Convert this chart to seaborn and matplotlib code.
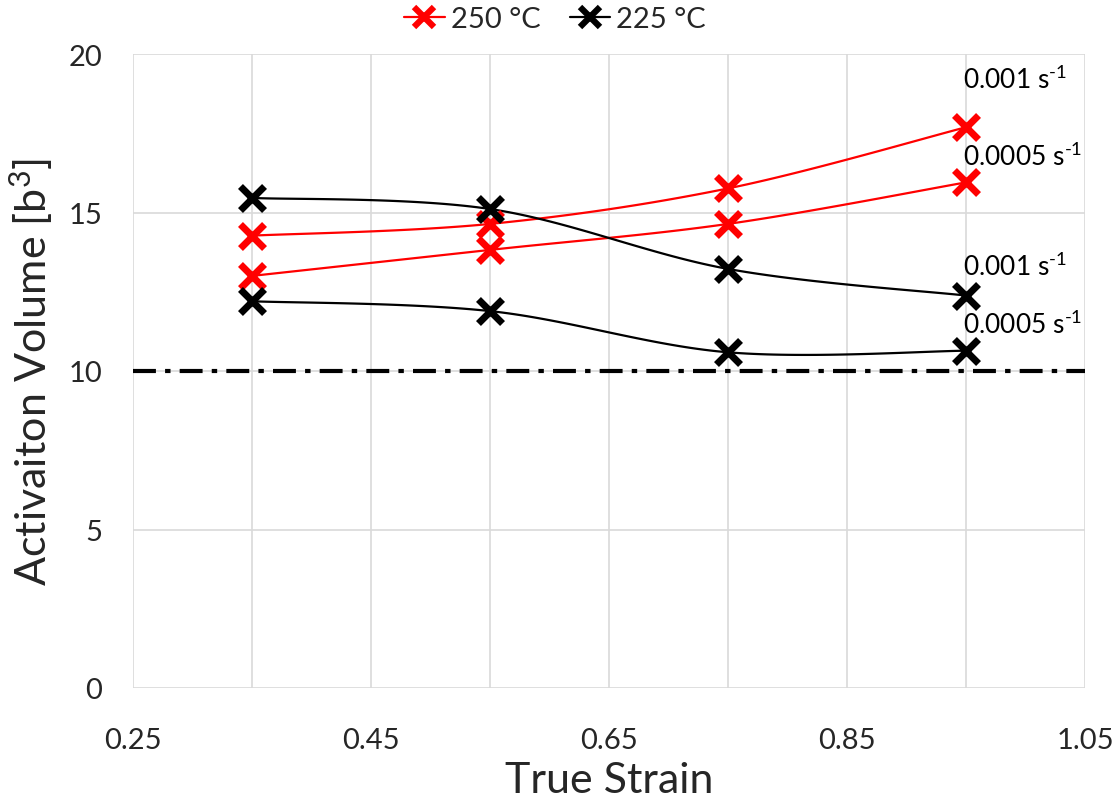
import numpy as np
import pandas as pd
import matplotlib
matplotlib.use("Agg")
import matplotlib.pyplot as plt
from matplotlib.lines import Line2D
import seaborn as sns

# ---- data ----
strain = [0.35, 0.55, 0.75, 0.95]
v250_001 = [14.27, 14.64, 15.76, 17.69]
v250_0005 = [13.00, 13.82, 14.64, 15.95]
v225_001 = [15.46, 15.11, 13.22, 12.38]
v225_0005 = [12.20, 11.89, 10.59, 10.64]
series_labels = ["250 °C", "225 °C"]
rate_labels = ["0.001 s$^{\\text{-}1}$", "0.0005 s$^{\\text{-}1}$"]
xticks = [0.25, 0.45, 0.65, 0.85, 1.05]
yticks = [0, 5, 10, 15, 20]
threshold = 10

sns.set_theme(style="white")
FONT = "Lato"
plt.rcParams["font.family"] = [FONT, "DejaVu Sans"]
plt.rcParams["mathtext.fontset"] = "custom"
plt.rcParams["mathtext.rm"] = FONT
plt.rcParams["mathtext.it"] = FONT


def smooth(xs, ys, n=40):
    # Bezier smoothing similar to spreadsheet "smoothed line"
    P = np.column_stack([xs, ys]).astype(float)
    m = len(P)
    out = []
    for i in range(m - 1):
        p0 = P[max(i - 1, 0)]
        p1 = P[i]
        p2 = P[i + 1]
        p3 = P[min(i + 2, m - 1)]
        c1 = p1 + (p2 - p0) / 6.0
        c2 = p2 - (p3 - p1) / 6.0
        t = np.linspace(0, 1, n)[:, None]
        seg = ((1 - t) ** 3) * p1 + 3 * ((1 - t) ** 2) * t * c1 + 3 * (1 - t) * t ** 2 * c2 + t ** 3 * p2
        out.append(seg if i == 0 else seg[1:])
    arr = np.vstack(out)
    return pd.DataFrame({"x": arr[:, 0], "y": arr[:, 1]})


fig = plt.figure(figsize=(11.15, 8.03), dpi=100)
ax = fig.add_axes([133 / 1115, 1 - 689 / 803, (1085 - 133) / 1115, (689 - 55) / 803])

series = [(v250_001, "#ff0000"), (v250_0005, "#ff0000"),
          (v225_001, "#000000"), (v225_0005, "#000000")]

ax.axhline(threshold, color="black", lw=3.0, dashes=(5.5, 2.2, 1.3, 2.2), zorder=2)

for vals, col in series:
    df = smooth(strain, vals)
    sns.lineplot(data=df, x="x", y="y", ax=ax, color=col, lw=1.6, sort=False,
                 estimator=None, zorder=3)
for vals, col in series:
    sns.scatterplot(x=strain, y=vals, ax=ax, marker="x", s=300, color=col,
                    linewidth=5, zorder=4)

# rate annotations
ann_x = 0.9475
ann = [(19.21, rate_labels[0]), (16.78, rate_labels[1]),
       (13.31, rate_labels[0]), (11.48, rate_labels[1])]
for yv, txt in ann:
    ax.text(ann_x, yv, txt, fontsize=19, color="black", ha="left", va="center")

ax.set_xlim(0.25, 1.05)
ax.set_ylim(0, 20)
ax.set_xticks(xticks)
ax.set_xticklabels([f"{t:.2f}" for t in xticks])
ax.set_xticks([0.35, 0.55, 0.75, 0.95], minor=True)
ax.set_yticks(yticks)
ax.grid(True, which="both", color="#d9d9d9", lw=1.2, zorder=0)
ax.set_axisbelow(True)
for s in ax.spines.values():
    s.set_visible(False)
ax.tick_params(axis="x", which="both", length=0, pad=28, labelsize=21)
ax.tick_params(axis="y", which="both", length=0, pad=22, labelsize=21)
ax.set_xlabel("True Strain", fontsize=31, labelpad=6)
ax.set_ylabel("Activaiton Volume [b$^{3}$]", fontsize=31, labelpad=10)

handles = [Line2D([0], [0], color="#ff0000", lw=1.6, marker="x", ms=14, mew=4.5),
           Line2D([0], [0], color="#000000", lw=1.6, marker="x", ms=14, mew=4.5)]
fig.legend(handles, series_labels, loc="center", bbox_to_anchor=(555 / 1115, 1 - 20 / 803),
           ncol=2, frameon=False, fontsize=21, handlelength=1.4, handletextpad=0.2,
           columnspacing=1.0)

fig.savefig("out.png", dpi=100)
